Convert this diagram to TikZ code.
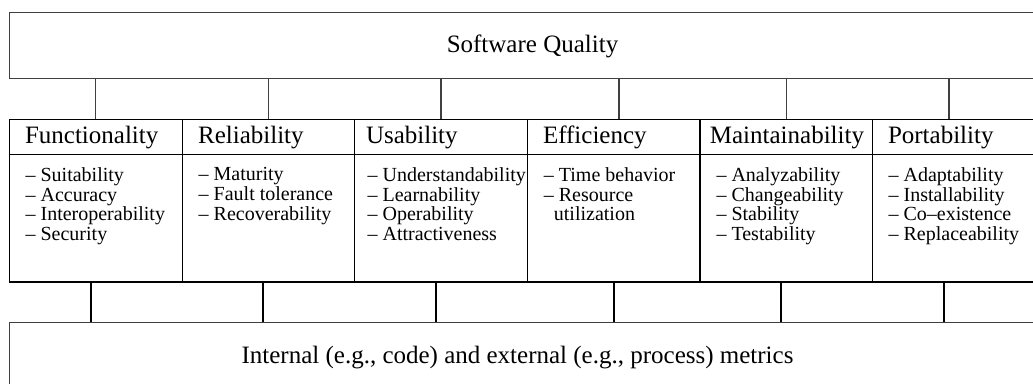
\documentclass[tikz,border=0pt]{standalone}
\usepackage{fontspec}
\setmainfont{Liberation Serif}
\usetikzlibrary{positioning,calc}

\begin{document}
\begin{tikzpicture}[x=1pt, y=-1pt, line width=1.2pt,
  bigtext/.style={font=\fontsize{25}{30}\selectfont, text height=18pt, text depth=4pt},
  bigbox/.style={draw=black!75, inner sep=0pt, outer sep=0pt, anchor=north west},
  headbox/.style={draw, bigtext, anchor=north west, minimum width=172.6pt, minimum height=35pt, inner ysep=0pt, outer sep=0pt, align=left},
  listbox/.style={draw, minimum width=172.6pt, minimum height=127.7pt, inner sep=0pt, outer sep=0pt},
  listtext/.style={font=\fontsize{20}{19.7}\selectfont, align=left, inner sep=0pt}]
\useasboundingbox (0,0) rectangle (1033,383);
\clip (0,0) rectangle (1033,383);
\node[bigbox, bigtext, minimum width=1046pt, minimum height=66pt] (quality) at (9.5,12.5) {Software Quality};
\node[bigbox, minimum width=1060pt, minimum height=68pt] (metrics) at (9.5,322.3) {};
\node[bigtext, inner sep=0pt] (metrics-label) at (517.5,356) {Internal (e.g., code) and external (e.g., process) metrics};
\foreach \name/\hin/\lin/\items [count=\i from 0] in {
  Functionality/15.5/15.5/{-- Suitability\\-- Accuracy\\-- Interoperability\\-- Security},
  Reliability/16/16/{-- Maturity\\-- Fault tolerance\\-- Recoverability},
  Usability/11.3/12.3/{-- Understandability\\-- Learnability\\-- Operability\\-- Attractiveness},
  Efficiency/15.7/16/{-- Time behavior\\-- Resource\\\hspace*{10pt}utilization},
  Maintainability/10/16/{-- Analyzability\\-- Changeability\\-- Stability\\-- Testability},
  Portability/15.5/15.5/{-- Adaptability\\-- Installability\\-- Co--existence\\-- Replaceability}}{
  \pgfmathsetmacro\tw{172.6-2*\hin}
  \node[headbox, inner xsep=\hin pt, text width=\tw pt] (h\i) at (9.5+172.6*\i,119.3) {\name};
  \node[listbox, below=0pt of h\i] (b\i) {};
  \node[listtext, below right=12.7pt and \lin pt of b\i.north west] (l\i) {\items};
}
\foreach \i/\dt/\db in {0/0/-4.8, 1/0/-5.4, 2/0/-5, 3/5.4/0.4, 4/0/-5.2, 5/-9.8/-14.8}{
  \draw[black!75] ([xshift=\dt pt]h\i.north) -- ([xshift=\dt pt]h\i.north |- quality.south);
  \draw ([xshift=\db pt]b\i.south) -- ([xshift=\db pt]b\i.south |- metrics.north);
}
\end{tikzpicture}
\end{document}
